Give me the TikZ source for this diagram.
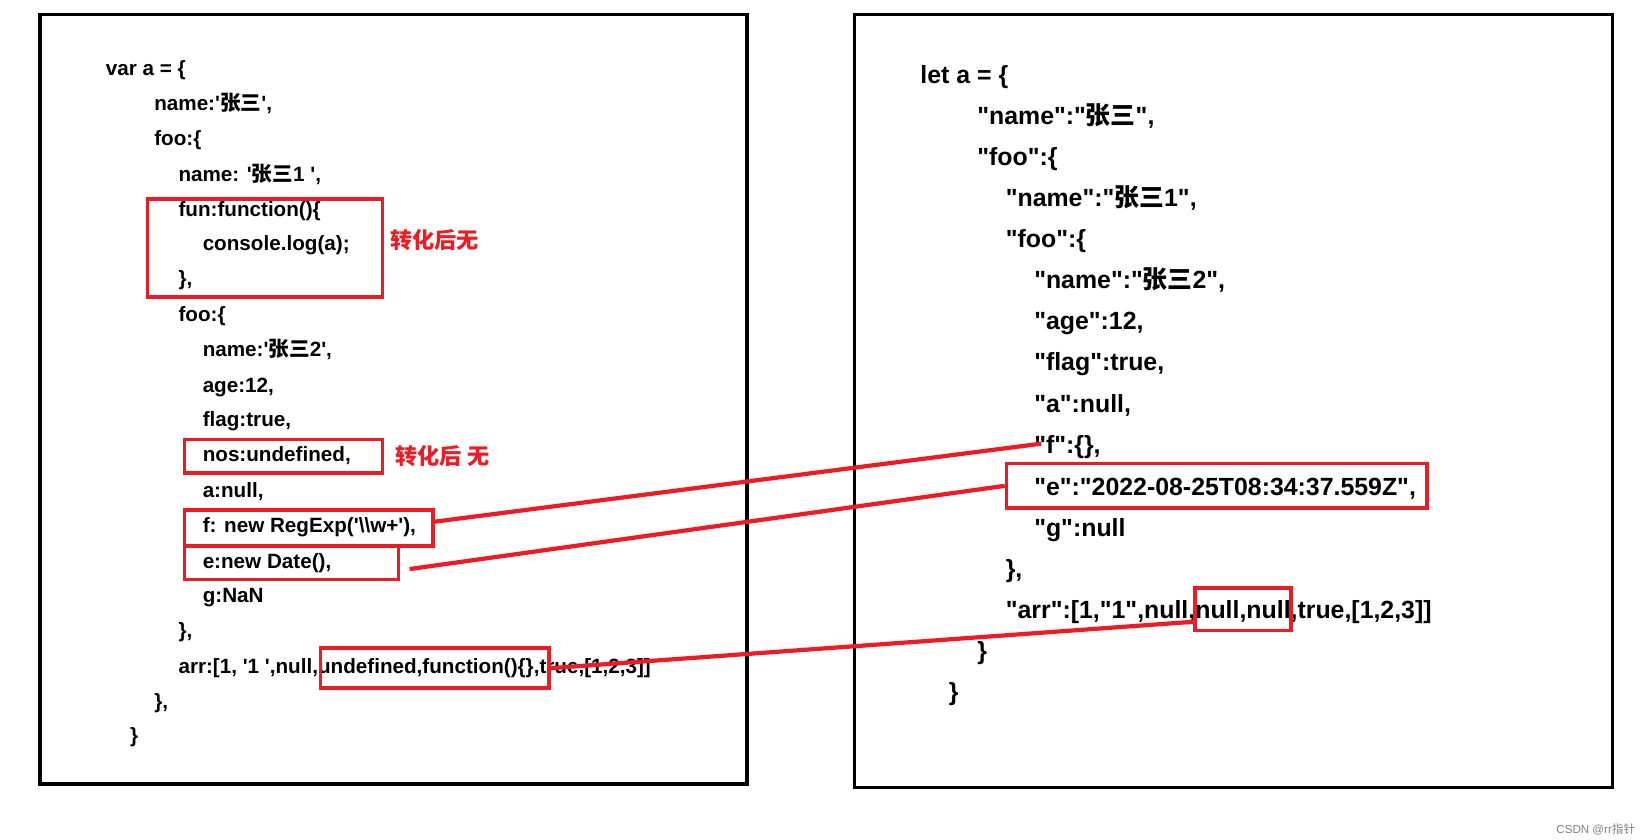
\documentclass[tikz,border=0pt]{standalone}
\usepackage{fontspec}
\setmainfont{Liberation Sans}[Ligatures=TeXOff]
\newfontfamily\cjk{Noto Sans CJK SC}
\usetikzlibrary{positioning}
\definecolor{MarkRed}{RGB}{237, 28, 36}
\newcommand{\sq}{\char"0027\relax}
\newcommand{\dq}{\char"0022\relax}
\newcommand{\zh}[1]{{\cjk #1}}
\tikzset{
  codeL/.style={anchor=base west, inner sep=0pt, font=\fontsize{9.8}{11}\selectfont\bfseries},
  codeR/.style={anchor=base west, inner sep=0pt, font=\fontsize{11.8}{13}\selectfont\bfseries},
  markbox/.style={draw=MarkRed, line width=1.6pt, inner sep=0pt},
  marknote/.style={anchor=base west, inner sep=0pt, text=MarkRed, font=\fontsize{10.5}{12}\selectfont\cjk\bfseries},
  linkline/.style={draw=MarkRed, line width=2pt},
  frame/.style={draw=black, line width=1.6pt}
}
\begin{document}
\begin{tikzpicture}[x=0.5pt, y=-0.5pt]
\useasboundingbox (0,0) rectangle (1560,797);
% frames
\draw[frame] (38,14) rectangle (709,744);
\draw[frame] (811,14) rectangle (1530,747);

% left: source object
\node[codeL] (l1) at (100,72) {var a = \{};
\node[codeL] (l2) at (146,105) {name:\sq\zh{张三}\sq,};
\node[codeL] (l3) at (146,138) {foo:\{};
\node[codeL] (l4) at (169,172) {name: \sq\zh{张三}1 \sq,};
\node[codeL] (l5) at (169,205) {fun:function()\{};
\node[codeL] (l6) at (192,238) {console.log(a);};
\node[codeL] (l7) at (169,271) {\},};
\node[codeL] (l8) at (169,305) {foo:\{};
\node[codeL] (l9) at (192,338) {name:\sq\zh{张三}2\sq,};
\node[codeL] (l10) at (192,372) {age:12,};
\node[codeL] (l11) at (192,405) {flag:true,};
\node[codeL] (l12) at (192,438) {nos:undefined,};
\node[codeL] (l13) at (192,472) {a:null,};
\node[codeL] (l14) at (192,505) {f: new RegExp(\sq\textbackslash\textbackslash w+\sq),};
\node[codeL] (l15) at (192,539) {e:new Date(),};
\node[codeL] (l16) at (192,572) {g:NaN};
\node[codeL] (l17) at (169,605) {\},};
\node[codeL] (l18) at (169,639) {arr:[1, \sq 1 \sq,null,undefined,function()\{\},true,[1,2,3]]};
\node[codeL] (l19) at (146,672) {\},};
\node[codeL] (l20) at (123,705) {\}};

% left marks
\node[markbox, minimum width=111.5pt, minimum height=46.5pt] (funbox) at (251.5,235.5) {};
\node[markbox, minimum width=94pt, minimum height=16pt] (nosbox) at (269,433) {};
\node[markbox, minimum width=118pt, minimum height=17pt] (fbox) at (293,501) {};
\node[markbox, minimum width=101.5pt, minimum height=16pt] (ebox) at (276.5,534) {};
\node[markbox, minimum width=108.5pt, minimum height=19pt] (arrbox) at (412.5,634) {};
\node[marknote] (note1) at (370,236) {转化后无};
\node[marknote] (note2) at (375,441) {转化后 无};

% right: JSON result
\node[codeR] (r1) at (873,79) {let a = \{};
\node[codeR] (r2) at (927,118) {\dq name\dq:\dq\zh{张三}\dq,};
\node[codeR] (r3) at (927,157) {\dq foo\dq:\{};
\node[codeR] (r4) at (954,196) {\dq name\dq:\dq\zh{张三}1\dq,};
\node[codeR] (r5) at (954,235) {\dq foo\dq:\{};
\node[codeR] (r6) at (981,274) {\dq name\dq:\dq\zh{张三}2\dq,};
\node[codeR] (r7) at (981,313) {\dq age\dq:12,};
\node[codeR] (r8) at (981,352) {\dq flag\dq:true,};
\node[codeR] (r9) at (981,391) {\dq a\dq:null,};
\node[codeR] (r10) at (981,430) {\dq f\dq:\{\},};
\node[codeR] (r11) at (981,470) {\dq e\dq:\dq 2022-08-25T08:34:37.559Z\dq,};
\node[codeR] (r12) at (981,509) {\dq g\dq:null};
\node[codeR] (r13) at (954,548) {\},};
\node[codeR] (r14) at (954,587) {\dq arr\dq:[1,\dq 1\dq,null,null,null,true,[1,2,3]]};
\node[codeR] (r15) at (927,626) {\}};
\node[codeR] (r16) at (900,665) {\}};

% right marks
\node[markbox, minimum width=199.5pt, minimum height=21pt] (datebox) at (1154.5,461) {};
\node[markbox, minimum width=45.5pt, minimum height=20pt] (nullbox) at (1179.5,578) {};
\coordinate (fend) at (988,421);

% links
\draw[linkline] (fbox.east |- 0,495) -- (fend);
\draw[linkline] (ebox.east |- 0,540) ++(9,0) -- (datebox.west);
\draw[linkline] (arrbox.east) -- (nullbox.west |- 0,590);

\node[anchor=base east, inner sep=0pt, text=gray, font=\fontsize{5.5}{6}\selectfont] (mark) at (1552,791) {CSDN @rr\zh{指针}};
\end{tikzpicture}
\end{document}
